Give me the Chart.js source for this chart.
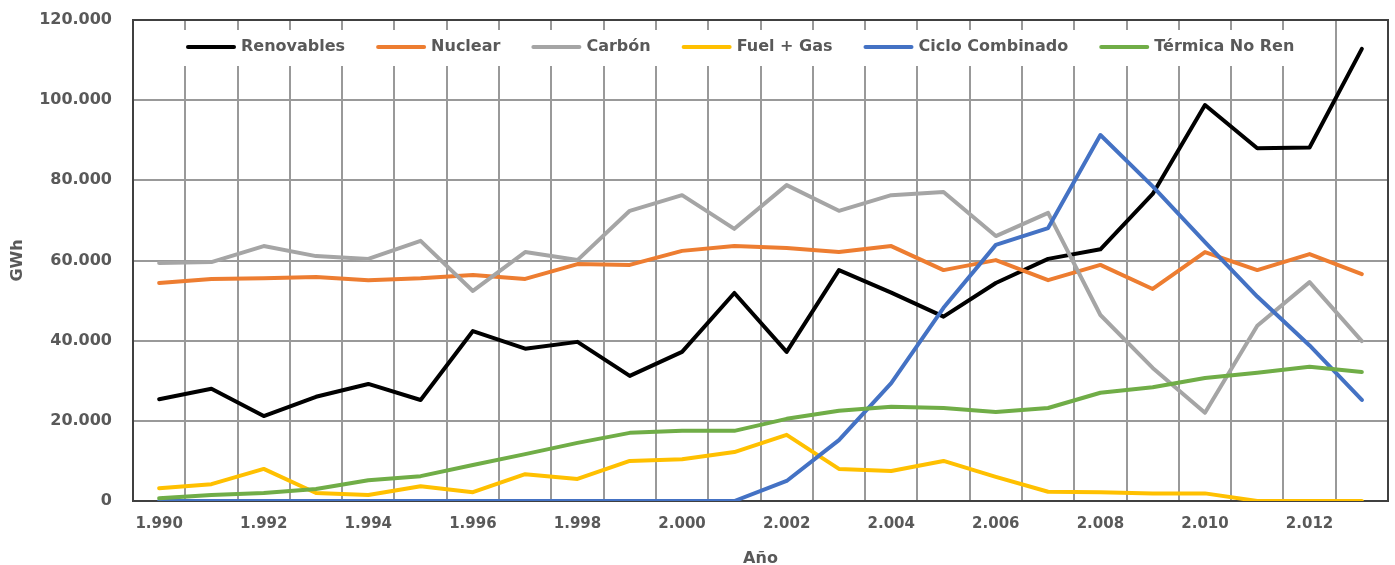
<!DOCTYPE html>
<html>
<head>
<meta charset="utf-8">
<script src="https://cdn.jsdelivr.net/npm/chart.js@4.4.0/dist/chart.umd.min.js"></script>
<style>
    html, body { margin: 0; padding: 0; background: #fff; }
</style>
</head>
<body>
<canvas id="myChart" width="1395" height="565"></canvas>
<script>
// años y series (GWh)
const years = [1990, 1991, 1992, 1993, 1994, 1995, 1996, 1997, 1998, 1999, 2000, 2001,
    2002, 2003, 2004, 2005, 2006, 2007, 2008, 2009, 2010, 2011, 2012, 2013];
const renovables = [25400, 28000, 21200, 26000, 29200, 25200, 42400, 38000, 39700, 31200, 37200, 51900,
    37200, 57600, 52000, 46000, 54400, 60400, 62800, 76600, 98800, 88000, 88200, 112800];
const nuclear = [54400, 55400, 55600, 55900, 55100, 55600, 56400, 55400, 59100, 58900, 62400, 63600,
    63100, 62100, 63600, 57600, 60100, 55100, 58900, 52900, 62100, 57600, 61600, 56600];
const carbon = [59400, 59600, 63600, 61100, 60400, 64900, 52400, 62100, 60100, 72400, 76300, 67900,
    78800, 72400, 76300, 77100, 66100, 71900, 46400, 33200, 22000, 43700, 54600, 39900];
const fuelGas = [3200, 4200, 8000, 2000, 1500, 3700, 2200, 6700, 5500, 10000, 10400, 12200,
    16500, 8000, 7500, 10000, 6000, 2300, 2200, 1900, 1900, 0, 0, 0];
const cicloCombinado = [0, 0, 0, 0, 0, 0, 0, 0, 0, 0, 0, 0,
    5000, 15200, 29400, 48200, 63900, 68100, 91300, 78500, 64600, 51000, 38800, 25200];
const termicaNoRen = [700, 1500, 2000, 3000, 5200, 6200, 9000, 11700, 14500, 17000, 17500, 17500,
    20500, 22500, 23500, 23200, 22200, 23200, 27000, 28400, 30700, 32000, 33500, 32200];
const yTicks = [0, 20000, 40000, 60000, 80000, 100000, 120000];

// 1990 -> "1.990", 120000 -> "120.000"
function fmt(n) {
    return String(n).replace(/\B(?=(\d{3})+(?!\d))/g, '.');
}

const textColor = '#595959';
const font = 'DejaVu Sans';

// leyenda dentro del area del grafico, con fondo blanco sobre la rejilla
const legendBox = {
    id: 'legendBox',
    beforeDatasetsDraw(chart) {
        const ctx = chart.ctx;
        const area = chart.chartArea;
        ctx.save();
        ctx.fillStyle = '#fff';
        ctx.fillRect(area.left + 12, area.top + 10, 1172, 36);
        ctx.font = 'bold 16px "' + font + '"';
        ctx.textBaseline = 'middle';
        let x = area.left + 53;
        const y = area.top + 27;
        chart.data.datasets.forEach(ds => {
            ctx.strokeStyle = ds.borderColor;
            ctx.lineWidth = 4;
            ctx.lineCap = 'round';
            ctx.beginPath();
            ctx.moveTo(x + 2, y);
            ctx.lineTo(x + 48, y);
            ctx.stroke();
            ctx.fillStyle = textColor;
            ctx.fillText(ds.label, x + 55, y);
            x += 55 + ctx.measureText(ds.label).width + 31;
        });
        // marco del area
        ctx.strokeStyle = '#404040';
        ctx.lineWidth = 2;
        ctx.strokeRect(area.left, area.top, area.right - area.left, area.bottom - area.top);
        ctx.restore();
    }
};

function line(label, data, color, order) {
    return {
        label: label,
        data: data,
        borderColor: color,
        backgroundColor: color,
        borderWidth: 4,
        pointRadius: 0,
        tension: 0,
        borderJoinStyle: 'round',
        borderCapStyle: 'round',
        order: order
    };
}

new Chart(document.getElementById('myChart'), {
    type: 'line',
    data: {
        labels: years,
        datasets: [
            line('Renovables', renovables, '#000000', 5),
            line('Nuclear', nuclear, '#ED7D31', 4),
            line('Carbón', carbon, '#A5A5A5', 3),
            line('Fuel + Gas', fuelGas, '#FFC000', 2),
            line('Ciclo Combinado', cicloCombinado, '#4472C4', 1),
            line('Térmica No Ren', termicaNoRen, '#70AD47', 0)
        ]
    },
    options: {
        responsive: false,
        animation: false,
        layout: { padding: { top: 20, right: 7, bottom: 0, left: 0 } },
        plugins: {
            legend: { display: false },
            tooltip: { enabled: false }
        },
        scales: {
            x: {
                offset: true,
                grid: { offset: true, color: '#999999', lineWidth: 2, drawTicks: false },
                border: { color: '#404040', width: 2 },
                ticks: {
                    autoSkip: false,
                    maxRotation: 0,
                    padding: 14,
                    color: textColor,
                    font: { family: font, size: 15, weight: 'bold' },
                    callback: (v, i) => i % 2 === 0 ? fmt(years[i]) : ''
                },
                title: {
                    display: true,
                    text: 'Año',
                    color: textColor,
                    font: { family: font, size: 16, weight: 'bold' },
                    padding: { top: 0, bottom: -3 }
                },
                afterFit: s => { s.height = 64; }
            },
            y: {
                min: 0,
                max: 120000,
                // marcas invisibles para separar las etiquetas del eje
                grid: { color: '#999999', lineWidth: 2, drawTicks: true, tickLength: 21, tickColor: 'rgba(0,0,0,0)' },
                border: { color: '#404040', width: 2 },
                afterBuildTicks: s => { s.ticks = yTicks.map(v => ({ value: v })); },
                ticks: {
                    padding: 0,
                    color: textColor,
                    font: { family: font, size: 16, weight: 'bold' },
                    callback: v => fmt(v)
                },
                title: {
                    display: true,
                    text: 'GWh',
                    color: textColor,
                    font: { family: font, size: 16, weight: 'bold' },
                    padding: { top: 8, bottom: 0 }
                },
                afterFit: s => { s.width = 133; }
            }
        }
    },
    plugins: [legendBox]
});
</script>
</body>
</html>
